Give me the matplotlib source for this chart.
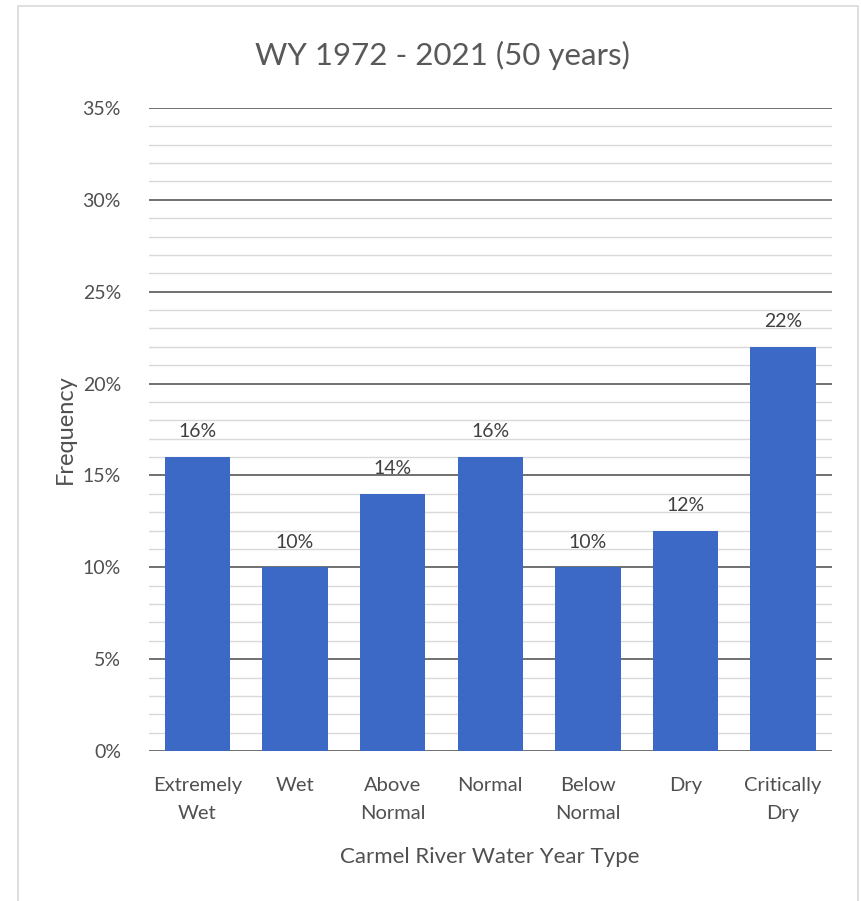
import matplotlib
matplotlib.use("Agg")
import matplotlib.pyplot as plt
from matplotlib.patches import Rectangle
from matplotlib.ticker import MultipleLocator, FuncFormatter

categories = ["Extremely\nWet", "Wet", "Above\nNormal", "Normal", "Below\nNormal", "Dry", "Critically\nDry"]
frequency = [16, 10, 14, 16, 10, 12, 22]
title = "WY 1972 - 2021 (50 years)"
xlabel = "Carmel River Water Year Type"
ylabel = "Frequency"

plt.rcParams['font.family'] = ['Lato', 'DejaVu Sans']
W, H = 862, 901
fig = plt.figure(figsize=(W / 100, H / 100), dpi=100)
fig.patch.set_facecolor("white")

# outer border of chart area
fig.patches.append(Rectangle((18 / W, -0.01), (858 - 18) / W, 1 - 6 / H + 0.01,
                             transform=fig.transFigure, fill=False,
                             edgecolor="#D9D9D9", linewidth=1.2))

ax = fig.add_axes([148.7 / W, 1 - 751 / H, (831.8 - 148.7) / W, (751 - 108) / H])
text_color = "#505050"
x = range(len(categories))
bars = ax.bar(x, frequency, width=0.67, color="#3D69C6", zorder=3)
ax.set_xlim(-0.5, len(categories) - 0.5)
ax.set_ylim(0, 35)

ax.yaxis.set_major_locator(MultipleLocator(5))
ax.yaxis.set_minor_locator(MultipleLocator(1))
ax.yaxis.set_major_formatter(FuncFormatter(lambda v, p: f"{int(round(v))}%"))
ax.grid(axis="y", which="major", color="#707070", linewidth=1.4, zorder=1)
ax.grid(axis="y", which="minor", color="#D9D9D9", linewidth=1.0, zorder=1)
ax.set_axisbelow(True)
for s in ax.spines.values():
    s.set_visible(False)
ax.tick_params(axis="both", which="both", length=0, colors=text_color, labelsize=14)
ax.tick_params(axis="y", pad=20)
ax.tick_params(axis="x", pad=19)
ax.set_xticks(list(x))
ax.set_xticklabels(categories, color=text_color, fontsize=14.5, linespacing=1.75)

for rect, v in zip(bars, frequency):
    ax.annotate(f"{v}%", (rect.get_x() + rect.get_width() / 2, v),
                xytext=(0, 12), textcoords="offset points", ha="center", va="bottom",
                color="#404040", fontsize=14)

ax.set_xlabel(xlabel, color=text_color, fontsize=16, labelpad=18)
ax.set_ylabel(ylabel, color=text_color, fontsize=17, labelpad=5)
fig.text(442 / W, 1 - 55 / H, title, ha="center", va="center", fontsize=22.5, color="#595959")

fig.savefig("out.png", dpi=100, facecolor="white")
